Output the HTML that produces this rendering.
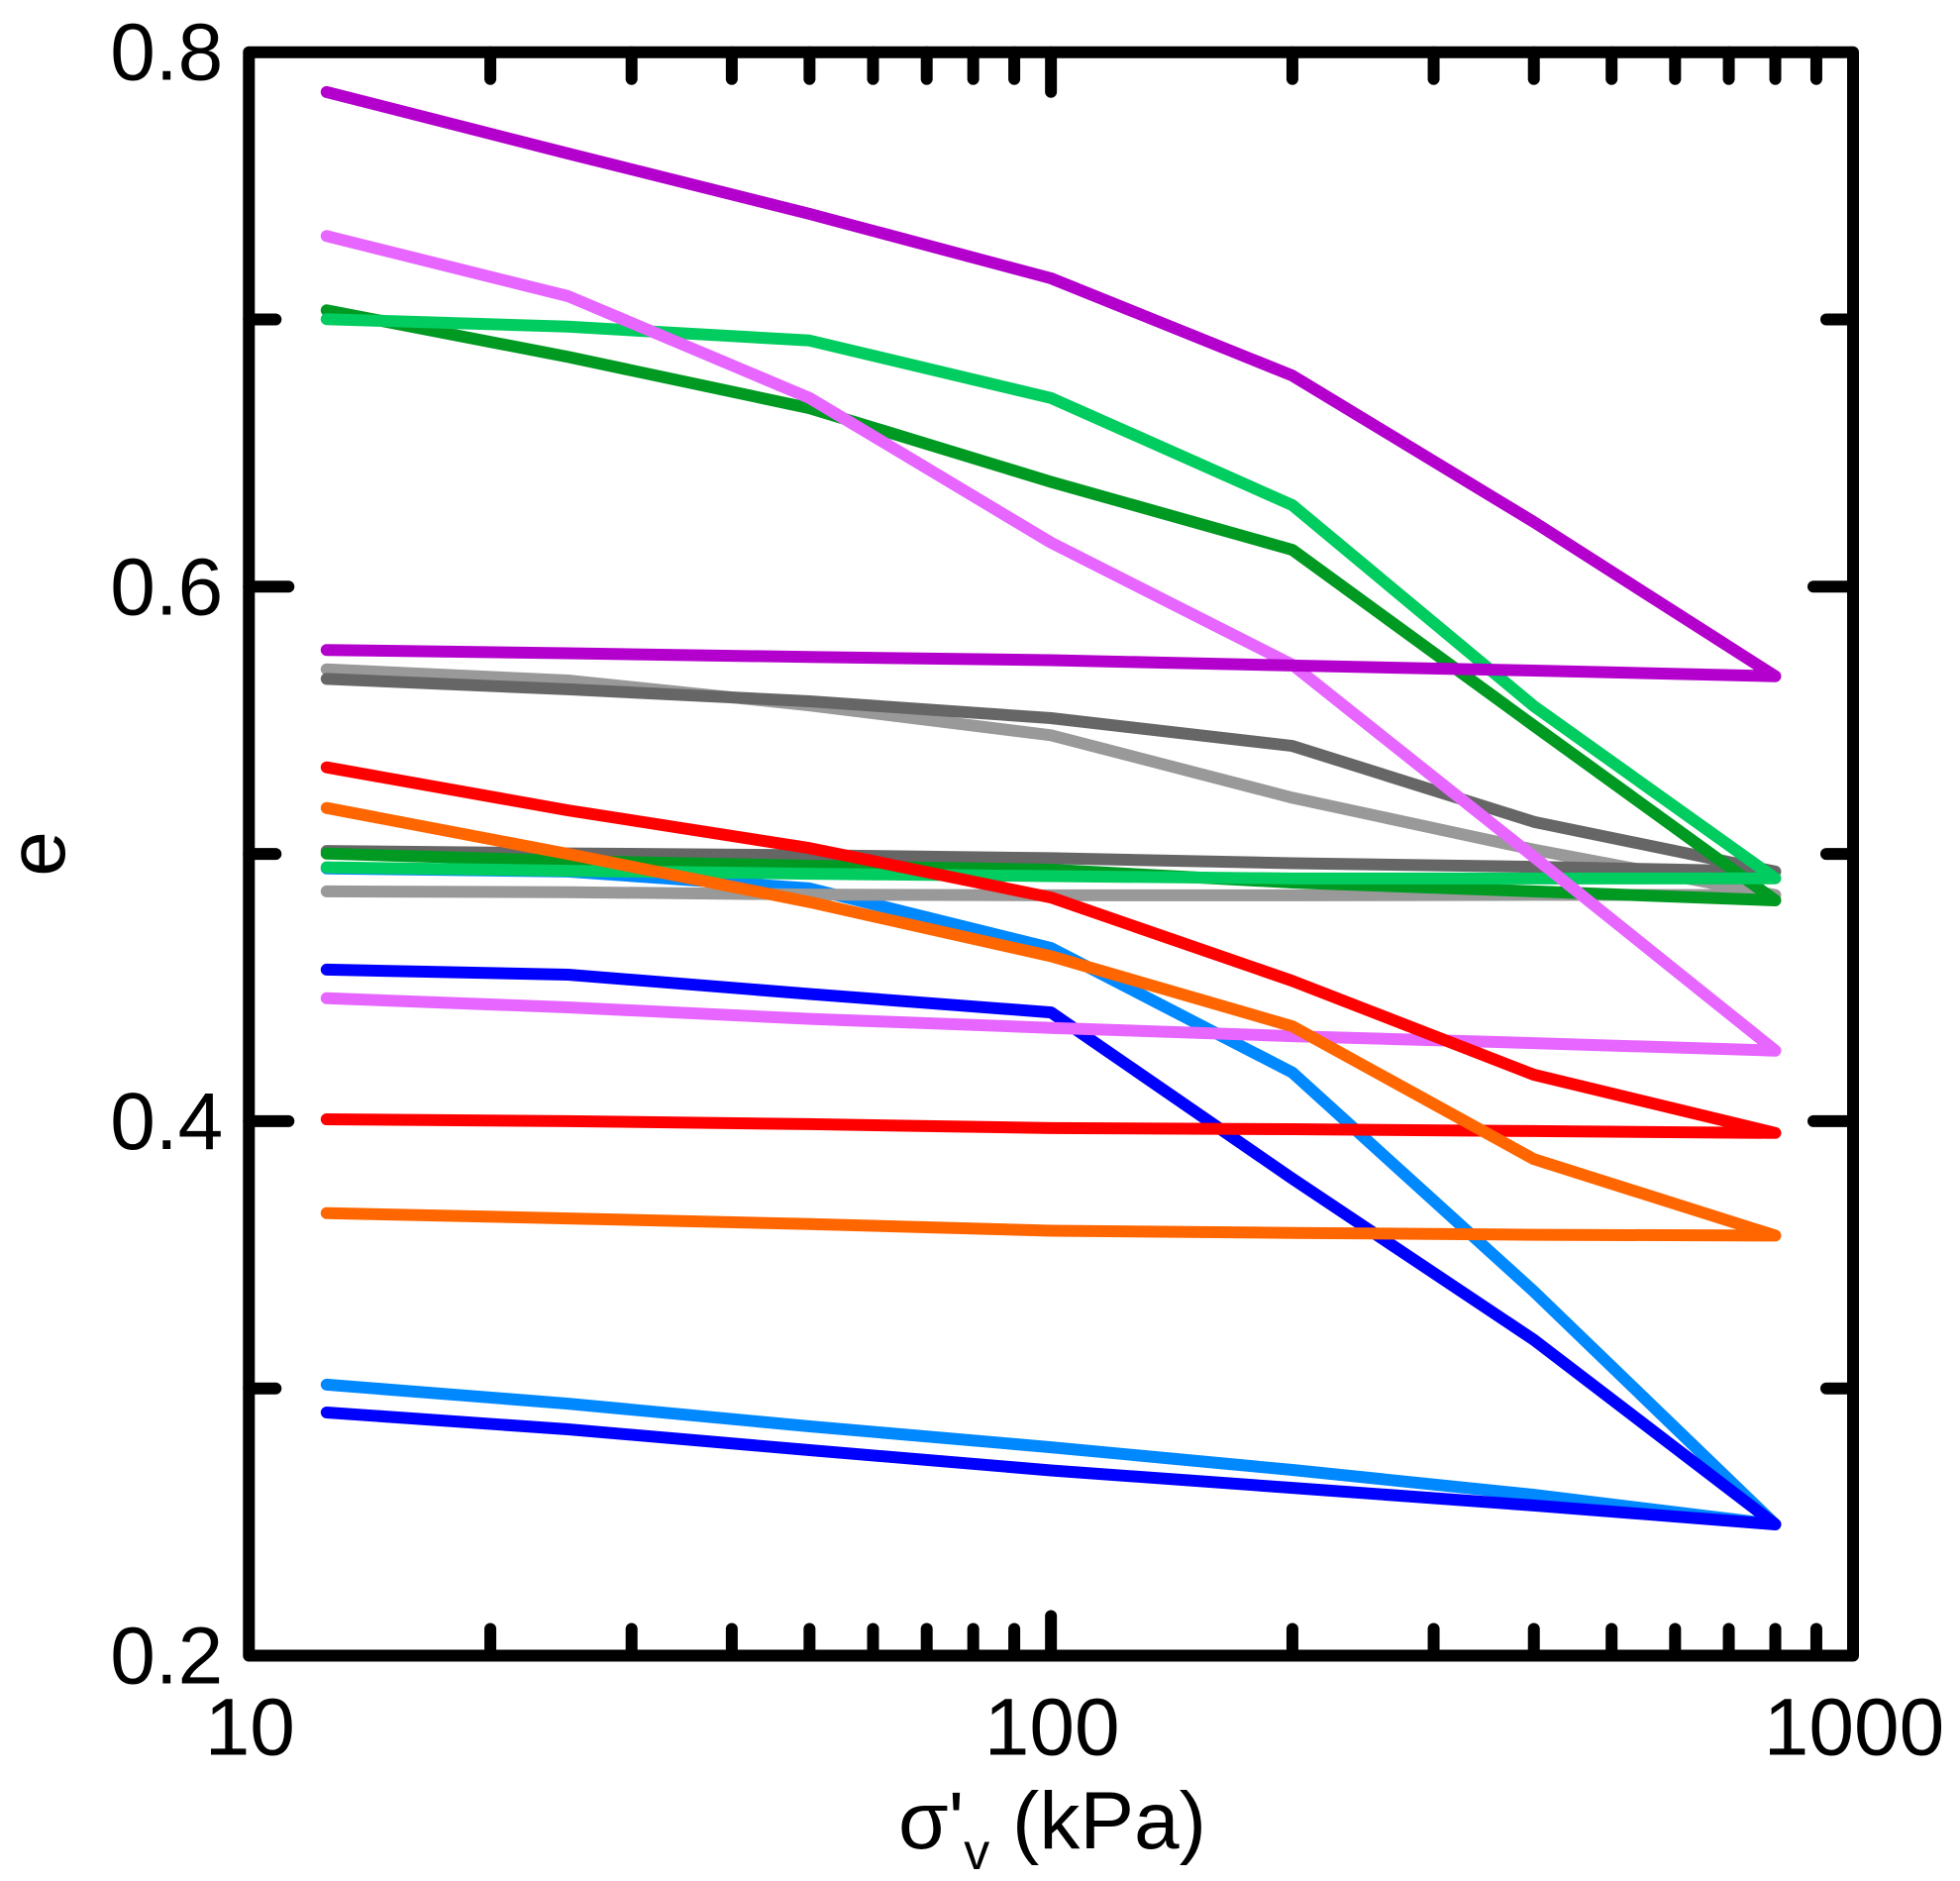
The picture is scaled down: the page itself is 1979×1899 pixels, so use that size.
<!DOCTYPE html>
<html lang="en">
<head>
<meta charset="utf-8">
<title>Void ratio vs vertical effective stress</title>
<style>
html,body{margin:0;padding:0;background:#fff;width:1979px;height:1899px;overflow:hidden}
svg{display:block;font-family:"Liberation Sans",sans-serif}
text{fill:#000;font-size:82px}
</style>
</head>
<body>
<svg id="chart" xmlns="http://www.w3.org/2000/svg" width="1979" height="1899" viewBox="0 0 1979 1899">
  <rect x="0" y="0" width="1979" height="1899" fill="#fff"/>
  <g id="series"></g>
  <g id="ticks"></g>
  <rect id="frame" fill="none" stroke="#000" stroke-width="12" stroke-linejoin="round"/>
  <g id="labels"></g>
  <text x="907" y="1866">σ'<tspan font-size="52" dy="21">v</tspan><tspan dy="-21"> (kPa)</tspan></text>
  <text transform="translate(65 862) rotate(-90)" text-anchor="middle">e</text>
</svg>
<script>
const stressSteps = [12.5, 25, 50, 100, 200, 400, 800];

const lightBlueLoad = [0.4946, 0.4934, 0.4871, 0.4648, 0.4182, 0.3363, 0.2491];
const lightBlueUnload = [0.3014, 0.2943, 0.2858, 0.2780, 0.2695, 0.2602, 0.2491];
const blueLoad = [0.4567, 0.4548, 0.4476, 0.4407, 0.3785, 0.3182, 0.2491];
const blueUnload = [0.2910, 0.2847, 0.2769, 0.2693, 0.2628, 0.2562, 0.2491];
const lightGrayLoad = [0.5691, 0.5649, 0.5556, 0.5444, 0.5210, 0.5016, 0.4846];
const lightGrayUnload = [0.4860, 0.4857, 0.4848, 0.4845, 0.4845, 0.4847, 0.4846];
const darkGrayLoad = [0.5655, 0.5616, 0.5571, 0.5508, 0.5404, 0.5120, 0.4934];
const darkGrayUnload = [0.5011, 0.5002, 0.4995, 0.4984, 0.4965, 0.4952, 0.4934];
const darkGreenLoad = [0.7034, 0.6860, 0.6668, 0.6392, 0.6138, 0.5480, 0.4826];
const darkGreenUnload = [0.5001, 0.4974, 0.4956, 0.4941, 0.4893, 0.4860, 0.4826];
const lightGreenLoad = [0.7001, 0.6973, 0.6921, 0.6706, 0.6305, 0.5553, 0.4909];
const lightGreenUnload = [0.4950, 0.4937, 0.4926, 0.4917, 0.4908, 0.4908, 0.4909];
const pinkLoad = [0.7312, 0.7087, 0.6706, 0.6165, 0.5708, 0.4989, 0.4264];
const pinkUnload = [0.4460, 0.4426, 0.4383, 0.4349, 0.4318, 0.4292, 0.4264];
const purpleLoad = [0.7851, 0.7621, 0.7395, 0.7154, 0.6790, 0.6242, 0.5665];
const purpleUnload = [0.5763, 0.5751, 0.5737, 0.5725, 0.5705, 0.5686, 0.5665];
const redLoad = [0.5324, 0.5163, 0.5022, 0.4837, 0.4525, 0.4174, 0.3956];
const redUnload = [0.4007, 0.4000, 0.3989, 0.3974, 0.3970, 0.3963, 0.3956];
const orangeLoad = [0.5172, 0.5000, 0.4820, 0.4617, 0.4355, 0.3858, 0.3572];
const orangeUnload = [0.3656, 0.3636, 0.3615, 0.3590, 0.3582, 0.3575, 0.3572];

const seriesNames = ['light-blue', 'blue', 'light-gray', 'dark-gray', 'dark-green', 'light-green', 'pink', 'purple', 'red', 'orange'];
const seriesColors = ['#0088ff', '#0000ff', '#999999', '#666666', '#009922', '#00cc5f', '#e666ff', '#b300cc', '#ff0000', '#ff6600'];
const seriesLoad = [lightBlueLoad, blueLoad, lightGrayLoad, darkGrayLoad, darkGreenLoad, lightGreenLoad, pinkLoad, purpleLoad, redLoad, orangeLoad];
const seriesUnload = [lightBlueUnload, blueUnload, lightGrayUnload, darkGrayUnload, darkGreenUnload, lightGreenUnload, pinkUnload, purpleUnload, redUnload, orangeUnload];

const xMajorLabels = ['10', '100', '1000'];
const xMajorValues = [10, 100, 1000];
const xMinorValues = [20, 30, 40, 50, 60, 70, 80, 90, 200, 300, 400, 500, 600, 700, 800, 900];
const yLabels = ['0.2', '0.4', '0.6', '0.8'];
const yLabelValues = [0.2, 0.4, 0.6, 0.8];
const yMajorTicks = [0.4, 0.6];
const yMinorTicks = [0.3, 0.5, 0.7];

const NS = 'http://www.w3.org/2000/svg';
const plotLeft = 251.3, plotRight = 1871, plotTop = 52.7, plotBottom = 1671.5;
const xMin = 10, xMax = 1000, yMin = 0.2, yMax = 0.8;

function xPos(v) {
  return plotLeft + (Math.log10(v) - Math.log10(xMin)) / (Math.log10(xMax) - Math.log10(xMin)) * (plotRight - plotLeft);
}
function yPos(v) {
  return plotBottom - (v - yMin) / (yMax - yMin) * (plotBottom - plotTop);
}

const frame = document.getElementById('frame');
frame.setAttribute('x', plotLeft);
frame.setAttribute('y', plotTop);
frame.setAttribute('width', plotRight - plotLeft);
frame.setAttribute('height', plotBottom - plotTop);

const seriesGroup = document.getElementById('series');
seriesNames.forEach(function (name, i) {
  const pts = [];
  stressSteps.forEach(function (s, k) {
    pts.push(xPos(s).toFixed(1) + ',' + yPos(seriesLoad[i][k]).toFixed(1));
  });
  for (let k = stressSteps.length - 2; k >= 0; k--) {
    pts.push(xPos(stressSteps[k]).toFixed(1) + ',' + yPos(seriesUnload[i][k]).toFixed(1));
  }
  const line = document.createElementNS(NS, 'polyline');
  line.setAttribute('points', pts.join(' '));
  line.setAttribute('fill', 'none');
  line.setAttribute('stroke', seriesColors[i]);
  line.setAttribute('stroke-width', '12');
  line.setAttribute('stroke-linecap', 'round');
  line.setAttribute('stroke-linejoin', 'round');
  
  
  seriesGroup.appendChild(line);
});

const tickGroup = document.getElementById('ticks');
function addTick(x1, y1, x2, y2, tickName) {
  const t = document.createElementNS(NS, 'line');
  t.setAttribute('x1', x1);
  t.setAttribute('y1', y1);
  t.setAttribute('x2', x2);
  t.setAttribute('y2', y2);
  t.setAttribute('stroke', '#000');
  t.setAttribute('stroke-width', '12');
  t.setAttribute('stroke-linecap', 'round');
  
  
  tickGroup.appendChild(t);
}
const minorLen = 27, majorLen = 40;
xMinorValues.forEach(function (v) {
  addTick(xPos(v), plotBottom, xPos(v), plotBottom - minorLen, 'x-minor-tick-bottom');
  addTick(xPos(v), plotTop, xPos(v), plotTop + minorLen, 'x-minor-tick-top');
});
xMajorValues.slice(1, -1).forEach(function (v) {
  addTick(xPos(v), plotBottom, xPos(v), plotBottom - majorLen, 'x-major-tick-bottom');
  addTick(xPos(v), plotTop, xPos(v), plotTop + majorLen, 'x-major-tick-top');
});
yMinorTicks.forEach(function (v) {
  addTick(plotLeft, yPos(v), plotLeft + minorLen, yPos(v), 'y-minor-tick-left');
  addTick(plotRight, yPos(v), plotRight - minorLen, yPos(v), 'y-minor-tick-right');
});
yMajorTicks.forEach(function (v) {
  addTick(plotLeft, yPos(v), plotLeft + majorLen, yPos(v), 'y-major-tick-left');
  addTick(plotRight, yPos(v), plotRight - majorLen, yPos(v), 'y-major-tick-right');
});

const labelGroup = document.getElementById('labels');
yLabels.forEach(function (label, i) {
  const t = document.createElementNS(NS, 'text');
  t.setAttribute('x', plotLeft - 26);
  t.setAttribute('y', yPos(yLabelValues[i]) + 28);
  t.setAttribute('text-anchor', 'end');
  
  
  t.textContent = label;
  labelGroup.appendChild(t);
});
xMajorLabels.forEach(function (label, i) {
  const t = document.createElementNS(NS, 'text');
  t.setAttribute('x', xPos(xMajorValues[i]) + 1);
  t.setAttribute('y', 1771.5);
  t.setAttribute('text-anchor', 'middle');
  
  
  t.textContent = label;
  labelGroup.appendChild(t);
});
</script>
</body>
</html>
